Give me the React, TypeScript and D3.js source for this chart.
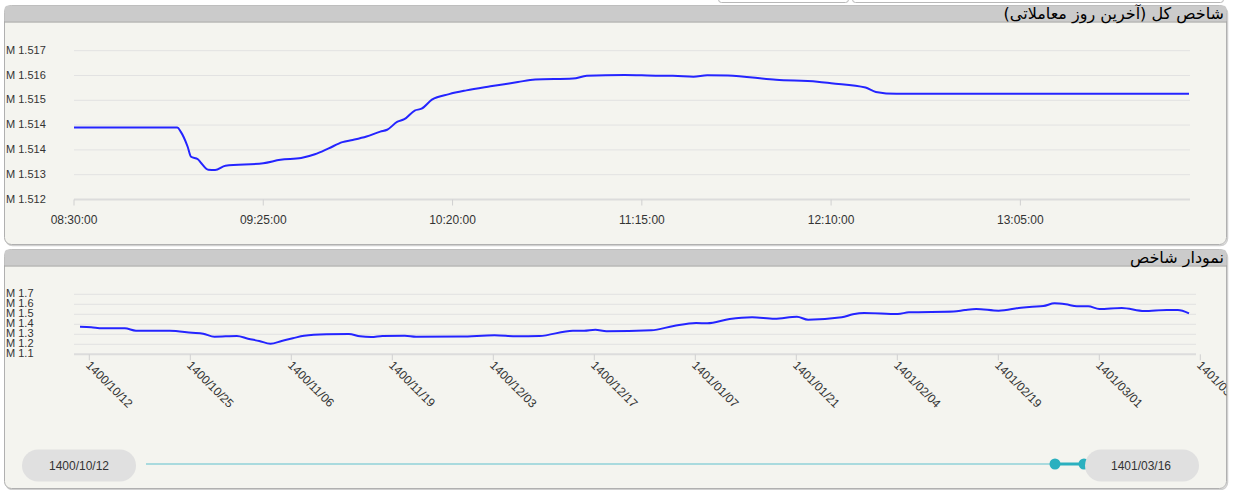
import React from "react";
import * as d3 from "d3";

// ---------- data ----------
const topTitle = "شاخص کل (آخرین روز معاملاتی)";
const bottomTitle = "نمودار شاخص";

const topTimes = [
  "08:30", "09:00", "09:01", "09:03", "09:04", "09:06", "09:07", "09:09", "09:11", "09:14",
  "09:25", "09:30", "09:36", "09:40", "09:44", "09:48", "09:51", "09:55", "09:59", "10:01",
  "10:04", "10:06", "10:09", "10:11", "10:14", "10:19", "10:24", "10:31", "10:35", "10:39",
  "10:44", "10:55", "10:59", "11:10", "11:20", "11:24", "11:30", "11:34", "11:40", "11:54",
  "12:06", "12:10", "12:20", "12:23", "12:29", "13:00", "13:30", "13:54",
];
const topValues = [
  1514320, 1514320, 1514190, 1513710, 1513380, 1513300, 1513170, 1512960, 1512950, 1513090,
  1513170, 1513280, 1513340, 1513460, 1513650, 1513850, 1513920, 1514030, 1514190, 1514250,
  1514510, 1514590, 1514870, 1514930, 1515220, 1515400, 1515520, 1515650, 1515720, 1515790,
  1515870, 1515900, 1515990, 1516020, 1515990, 1515990, 1515960, 1516010, 1516000, 1515860,
  1515800, 1515750, 1515610, 1515470, 1515410, 1515410, 1515410, 1515410,
];
const topTimeTicks = ["08:30", "09:25", "10:20", "11:15", "12:10", "13:05"];
const topTimeDomain = ["08:30", "13:54"];
const topYTicks = [1512000, 1512800, 1513600, 1514400, 1515200, 1516000, 1516800];

const bottomDays = [
  0, 1, 2, 4, 5, 8, 10, 11, 12, 14, 15, 16, 17, 18, 19, 20, 22, 24, 25, 26,
  27, 29, 30, 34, 37, 39, 41, 44, 45, 46, 47, 51, 53, 55, 56, 58, 60, 62, 64, 65,
  68, 69, 70, 73, 74, 78, 79, 80, 82, 84, 85, 86, 87, 88, 89, 90, 91, 93, 95, 97,
  98, 99,
];
const bottomValues = [
  1376000, 1370000, 1360000, 1360000, 1336000, 1336000, 1316000, 1306000, 1276000, 1283000,
  1256000, 1233000, 1206000, 1233000, 1260000, 1286000, 1300000, 1303000, 1280000, 1273000,
  1283000, 1286000, 1276000, 1278000, 1290000, 1280000, 1283000, 1336000, 1336000, 1346000,
  1330000, 1340000, 1383000, 1413000, 1410000, 1453000, 1470000, 1456000, 1476000, 1446000,
  1470000, 1500000, 1513000, 1503000, 1520000, 1528000, 1543000, 1553000, 1536000, 1566000,
  1576000, 1583000, 1610000, 1600000, 1580000, 1580000, 1553000, 1563000, 1533000, 1543000,
  1543000, 1510000,
];
const bottomDateTicks = [
  "1400/10/12", "1400/10/25", "1400/11/06", "1400/11/19", "1400/12/03", "1400/12/17",
  "1401/01/07", "1401/01/21", "1401/02/04", "1401/02/19", "1401/03/01", "1401/03/15",
];
const bottomYTicks = [1100000, 1200000, 1300000, 1400000, 1500000, 1600000, 1700000];
const sliderStart = "1400/10/12";
const sliderEnd = "1401/03/16";

// ---------- layout ----------
const W = 1235;
const H = 490;
const lineColor = "#2424ff";
const gridColor = "#e2e2e2";
const textColor = "#333";
const axisFont = "'Liberation Sans', Arial, sans-serif";
const titleFont = "'DejaVu Sans', Tahoma, sans-serif";

const parseT = d3.timeParse("%H:%M");

function Panel({ y, h, title, id, children }: any) {
  const x = 4.5, w = 1222, r = 7;
  const hh = 16;
  const headerPath = `M${x},${y + hh} L${x},${y + 4} Q${x},${y} ${x + 4},${y} L${x + w - 4},${y} Q${x + w},${y} ${x + w},${y + 4} L${x + w},${y + hh} Z`;
  return (
    <g>
      <defs>
        <clipPath id={id}>
          <rect x={x} y={y} width={w} height={h} rx={r} />
        </clipPath>
      </defs>
      <rect x={x + 1} y={y + 1} width={w} height={h} rx={r} fill="none" stroke="#d0d0d0" strokeWidth={1.5} />
      <rect x={x} y={y} width={w} height={h} rx={r} fill="#f4f4ef" stroke="#b0b0b0" strokeWidth={1} />
      <path d={headerPath} fill="#cbcbcb" />
      <line x1={x} x2={x + w} y1={y + hh + 0.5} y2={y + hh + 0.5} stroke="#9a9a9a" strokeWidth={1} />
      <text x={1224} y={y + 13} direction="rtl" textAnchor="start" fontFamily={titleFont} fontSize={16} fill="#000">
        {title}
      </text>
      <g clipPath={`url(#${id})`}>{children}</g>
    </g>
  );
}

export default function App() {
  // top chart scales
  const tx = d3.scaleTime().domain(topTimeDomain.map((t) => parseT(t) as Date)).range([74, 1189]);
  const ty = d3.scaleLinear().domain([1512000, 1516800]).range([199.5, 50.7]);
  const topData = topTimes.map((t, i) => ({ t: parseT(t) as Date, v: topValues[i] }));
  const topLine = d3
    .line<any>()
    .x((d) => tx(d.t))
    .y((d) => ty(d.v))
    .curve(d3.curveMonotoneX)(topData) as string;

  // bottom chart scales
  const bx = d3.scaleLinear().domain([0, 99]).range([80, 1189]);
  const bTick = d3.scalePoint<string>().domain(bottomDateTicks).range([89.3, 1200.3]);
  const by = d3.scaleLinear().domain([1100000, 1700000]).range([354.3, 294.3]);
  const bottomData = bottomDays.map((d, i) => ({ d, v: bottomValues[i] }));
  const bottomLine = d3
    .line<any>()
    .x((d) => bx(d.d))
    .y((d) => by(d.v))
    .curve(d3.curveMonotoneX)(bottomData) as string;

  const fmtTop = (v: number) => "M " + (v / 1e6).toFixed(3);
  const fmtBottom = (v: number) => "M " + (v / 1e6).toFixed(1);

  const sliderY = 464;

  return (
    <svg
      width={W}
      height={H}
      style={{ position: "absolute", left: 0, top: 0, background: "#fff" }}
    >
      {/* top tabs */}
      <rect x={718.5} y={-10} width={130} height={12.5} rx={3} fill="#fff" stroke="#b8b8b8" />
      <rect x={852.5} y={-10} width={371} height={12.5} rx={3} fill="#fff" stroke="#b8b8b8" />

      <Panel y={5.5} h={239} title={topTitle} id="clipTop">
        {topYTicks.map((v, i) => (
          <g key={"tg" + i}>
            {i > 0 && (
              <line x1={74} x2={1190} y1={ty(v)} y2={ty(v)} stroke={gridColor} strokeWidth={1} />
            )}
            <text x={6} y={ty(v) + 3} fontFamily={axisFont} fontSize={11} fill={textColor}>
              {fmtTop(v)}
            </text>
          </g>
        ))}
        <line x1={74} x2={1190} y1={ty(1512000)} y2={ty(1512000)} stroke="#dcdcdc" strokeWidth={2} />
        {topTimeTicks.map((t) => {
          const x = tx(parseT(t) as Date);
          return (
            <g key={t}>
              <line x1={x} x2={x} y1={ty(1512000)} y2={ty(1512000) + 6} stroke="#d0d0d0" />
              <text x={x} y={224} textAnchor="middle" fontFamily={axisFont} fontSize={12} fill={textColor}>
                {t + ":00"}
              </text>
            </g>
          );
        })}
        <path d={topLine} fill="none" stroke={lineColor} strokeWidth={2} />
      </Panel>

      <Panel y={249.5} h={239} title={bottomTitle} id="clipBottom">
        {bottomYTicks.map((v, i) => (
          <g key={"bg" + i}>
            {i > 0 && (
              <line x1={74} x2={1196} y1={by(v)} y2={by(v)} stroke={gridColor} strokeWidth={1} />
            )}
            <text x={6} y={by(v) + 3} fontFamily={axisFont} fontSize={11} fill={textColor}>
              {fmtBottom(v)}
            </text>
          </g>
        ))}
        <line x1={74} x2={1196} y1={by(1100000)} y2={by(1100000)} stroke="#dcdcdc" strokeWidth={2} />
        {bottomDateTicks.map((d) => {
          const x = bTick(d) as number;
          return (
            <g key={d}>
              <line x1={x} x2={x} y1={by(1100000)} y2={by(1100000) + 6} stroke="#d0d0d0" />
              <text
                transform={`translate(${x - 4},${366}) rotate(45)`}
                fontFamily={axisFont}
                fontSize={12}
                fill={textColor}
              >
                {d}
              </text>
            </g>
          );
        })}
        <path d={bottomLine} fill="none" stroke={lineColor} strokeWidth={2} />

        {/* range slider */}
        <line x1={146} x2={1055} y1={sliderY} y2={sliderY} stroke="#a9dade" strokeWidth={2} />
        <line x1={1055} x2={1084} y1={sliderY} y2={sliderY} stroke="#2bb0bf" strokeWidth={3} />
        <ellipse cx={1055} cy={sliderY} rx={5.5} ry={5.5} fill="#2bb0bf" />
        <ellipse cx={1084} cy={sliderY} rx={5.5} ry={5.5} fill="#2bb0bf" />
        <rect x={22} y={449.5} width={114} height={32} rx={16} fill="#e0e0e0" />
        <text x={79} y={470} textAnchor="middle" fontFamily={axisFont} fontSize={12} fill={textColor}>
          {sliderStart}
        </text>
        <rect x={1085} y={449.5} width={114} height={32} rx={16} fill="#e0e0e0" />
        <text x={1141} y={470} textAnchor="middle" fontFamily={axisFont} fontSize={12} fill={textColor}>
          {sliderEnd}
        </text>
      </Panel>
    </svg>
  );
}
